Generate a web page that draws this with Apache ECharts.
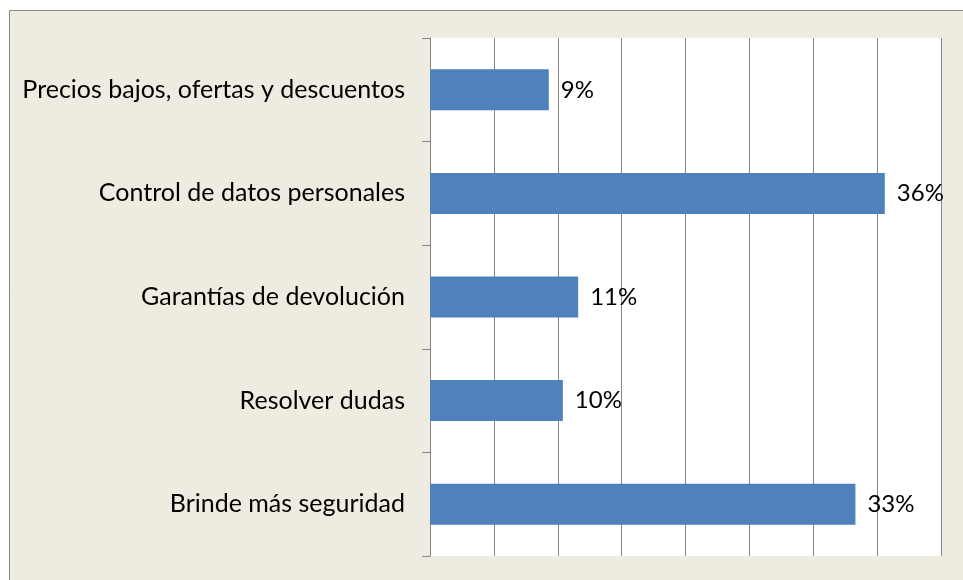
<!DOCTYPE html>
<html lang="es">
<head>
  <meta charset="UTF-8">
  <title>Chart</title>
  <script src="https://cdn.jsdelivr.net/npm/echarts@6/dist/echarts.min.js"></script>
  <style>
    html, body { margin: 0; padding: 0; background: #fff; }
    #main { width: 963px; height: 580px; }
  </style>
</head>
<body>
<div id="main"></div>
<script>
  var categories = ['Precios bajos, ofertas y descuentos', 'Control de datos personales',
    'Garantías de devolución', 'Resolver dudas', 'Brinde más seguridad'];
  var values = [9.3, 35.6, 11.6, 10.4, 33.3];
  var valueLabels = ['9%', '36%', '11%', '10%', '33%'];
  var axisMin = 0, axisMax = 40, axisStep = 5;

  var font = 'Lato, "Open Sans", sans-serif';

  echarts.init(document.querySelector('#main')).setOption({
    backgroundColor: '#fff',
    animation: false,
    graphic: [{
      type: 'rect',
      z: -10,
      shape: { x: 9.5, y: 10.5, width: 980, height: 600 },
      style: { fill: '#EEEBE0', stroke: '#888', lineWidth: 1 }
    }],
    grid: {
      left: 430, right: 22, top: 38, bottom: 24,
      show: true, backgroundColor: '#fff', borderWidth: 0
    },
    xAxis: {
      type: 'value',
      min: axisMin, max: axisMax, interval: axisStep,
      axisLabel: { show: false },
      axisLine: { show: false },
      axisTick: { show: false },
      splitLine: { show: true, lineStyle: { color: '#868686', width: 1 } }
    },
    yAxis: {
      type: 'category',
      inverse: true,
      data: categories,
      axisLine: { show: true, lineStyle: { color: '#868686', width: 1 } },
      axisTick: { show: true, length: 8, lineStyle: { color: '#868686' } },
      axisLabel: { color: '#000', fontFamily: font, fontSize: 25, margin: 25 }
    },
    series: [{
      type: 'bar',
      data: values,
      barWidth: 41,
      itemStyle: { color: '#4F81BD' },
      label: {
        show: true,
        position: 'right',
        distance: 12,
        color: '#000',
        fontFamily: font,
        fontSize: 24,
        formatter: function (p) { return valueLabels[p.dataIndex]; }
      }
    }]
  });
</script>
</body>
</html>
